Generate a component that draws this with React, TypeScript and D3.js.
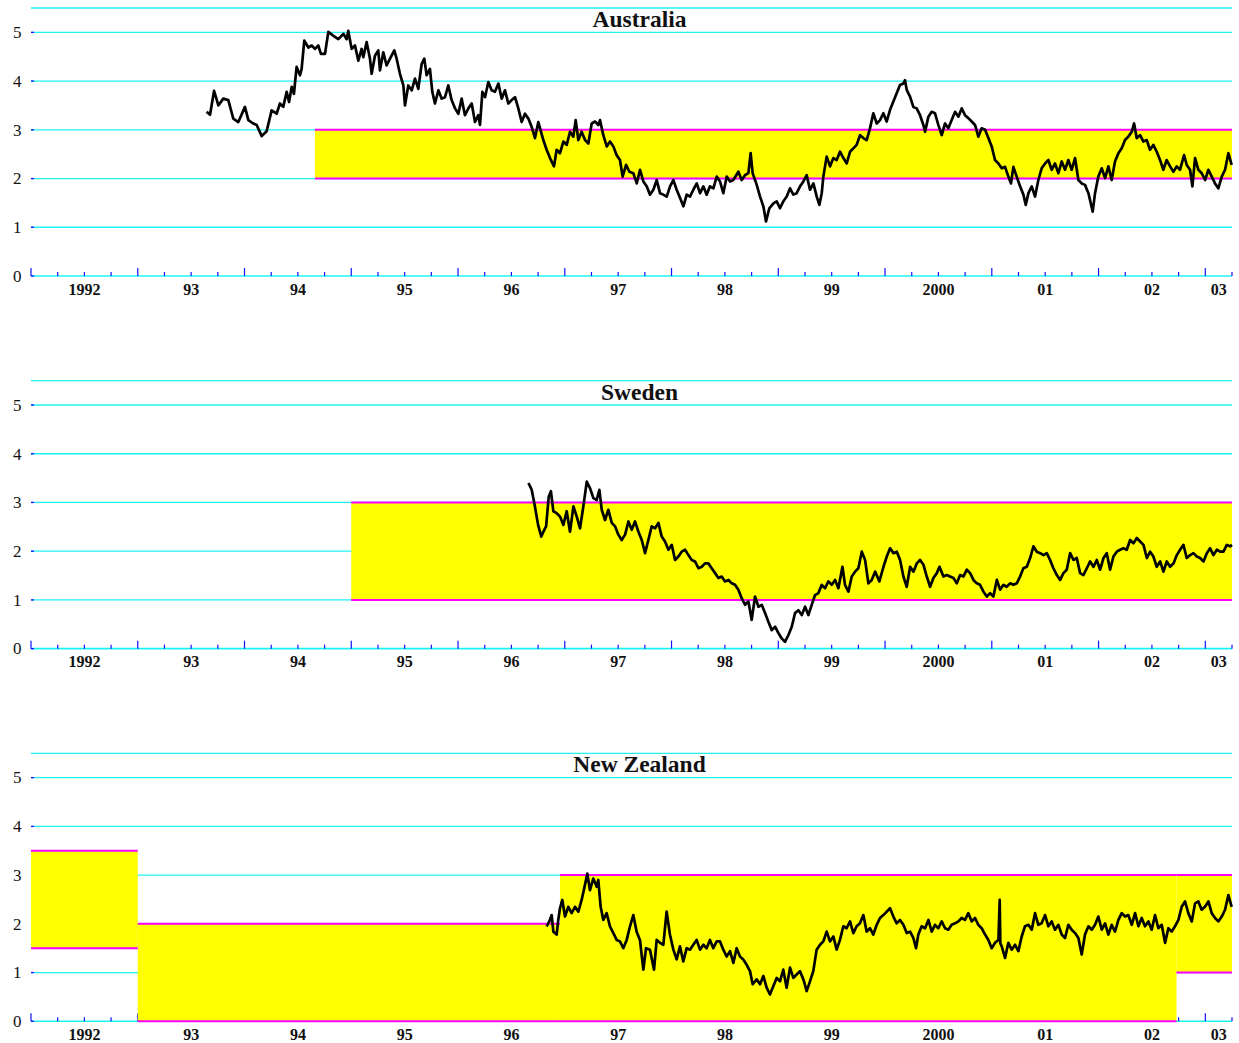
import React from "react";
import * as d3 from "d3";

type Pt = [number, number];
type Band = { from: number; to: number; lo: number; hi: number };

// Daily series, sampled as [decimal year, percent]
const AUSTRALIA: Pt[] = [
  [1993.645,3.37],[1993.677,3.31],[1993.715,3.80],[1993.755,3.50],[1993.801,3.64],[1993.848,3.61],[1993.895,3.23],[1993.942,3.16],
  [1994.004,3.47],[1994.036,3.20],[1994.082,3.13],[1994.114,3.10],[1994.161,2.87],[1994.207,2.97],[1994.254,3.40],[1994.301,3.33],
  [1994.332,3.54],[1994.363,3.47],[1994.395,3.78],[1994.417,3.57],[1994.442,3.88],[1994.463,3.74],[1994.488,4.29],[1994.520,4.12],
  [1994.535,4.25],[1994.560,4.83],[1994.598,4.69],[1994.629,4.73],[1994.660,4.66],[1994.691,4.73],[1994.716,4.56],[1994.754,4.56],
  [1994.785,5.01],[1994.832,4.93],[1994.879,4.86],[1994.926,4.97],[1994.957,4.86],[1994.972,5.03],[1995.004,4.66],[1995.035,4.73],
  [1995.066,4.42],[1995.097,4.66],[1995.113,4.49],[1995.144,4.80],[1995.175,4.46],[1995.191,4.15],[1995.222,4.52],[1995.253,4.63],
  [1995.269,4.22],[1995.300,4.59],[1995.331,4.32],[1995.363,4.46],[1995.403,4.63],[1995.425,4.46],[1995.456,4.15],[1995.488,3.91],
  [1995.503,3.50],[1995.534,3.91],[1995.566,3.81],[1995.597,4.05],[1995.628,3.84],[1995.659,4.35],[1995.684,4.46],[1995.706,4.12],
  [1995.737,4.25],[1995.759,3.78],[1995.784,3.54],[1995.816,3.81],[1995.847,3.64],[1995.878,3.67],[1995.909,3.91],[1995.940,3.61],
  [1995.972,3.44],[1996.003,3.33],[1996.034,3.64],[1996.065,3.30],[1996.097,3.44],[1996.128,3.54],[1996.159,3.16],[1996.190,3.30],
  [1996.206,3.10],[1996.228,3.78],[1996.253,3.67],[1996.284,3.98],[1996.315,3.81],[1996.346,3.78],[1996.378,3.95],[1996.409,3.64],
  [1996.440,3.81],[1996.471,3.54],[1996.502,3.61],[1996.534,3.67],[1996.565,3.44],[1996.596,3.16],[1996.627,3.33],[1996.659,3.23],
  [1996.690,3.06],[1996.721,2.83],[1996.752,3.16],[1996.799,2.79],[1996.830,2.59],[1996.862,2.42],[1996.899,2.25],[1996.924,2.59],
  [1996.955,2.52],[1996.987,2.76],[1997.018,2.69],[1997.049,2.96],[1997.080,2.86],[1997.102,3.20],[1997.127,2.79],[1997.158,2.96],
  [1997.190,2.79],[1997.221,2.72],[1997.252,3.13],[1997.283,3.17],[1997.315,3.10],[1997.330,3.20],[1997.361,2.89],[1997.393,2.66],
  [1997.424,2.76],[1997.455,2.66],[1997.486,2.48],[1997.517,2.38],[1997.542,2.04],[1997.574,2.28],[1997.605,2.14],[1997.642,2.11],
  [1997.674,1.90],[1997.705,2.18],[1997.736,1.94],[1997.767,1.84],[1997.798,1.67],[1997.830,1.77],[1997.861,1.97],[1997.892,1.70],
  [1997.923,1.67],[1997.955,1.63],[1997.986,1.84],[1998.017,1.97],[1998.048,1.77],[1998.080,1.60],[1998.111,1.43],[1998.142,1.67],
  [1998.173,1.63],[1998.204,1.77],[1998.236,1.90],[1998.267,1.70],[1998.298,1.84],[1998.329,1.67],[1998.360,1.84],[1998.392,1.80],
  [1998.423,2.04],[1998.454,1.94],[1998.485,1.70],[1998.517,2.04],[1998.548,1.94],[1998.579,1.97],[1998.626,2.14],[1998.657,1.97],
  [1998.688,2.07],[1998.720,2.11],[1998.741,2.52],[1998.760,2.11],[1998.798,1.87],[1998.829,1.63],[1998.860,1.43],[1998.885,1.12],
  [1998.916,1.39],[1998.954,1.49],[1998.985,1.53],[1999.016,1.39],[1999.047,1.53],[1999.079,1.63],[1999.110,1.80],[1999.141,1.67],
  [1999.172,1.70],[1999.204,1.84],[1999.235,1.94],[1999.266,2.07],[1999.297,1.77],[1999.329,1.90],[1999.360,1.63],[1999.385,1.46],
  [1999.407,1.70],[1999.422,2.04],[1999.453,2.45],[1999.485,2.25],[1999.516,2.42],[1999.547,2.38],[1999.578,2.55],[1999.610,2.42],
  [1999.641,2.31],[1999.672,2.55],[1999.703,2.62],[1999.734,2.69],[1999.766,2.89],[1999.797,2.83],[1999.828,2.79],[1999.859,3.03],
  [1999.890,3.34],[1999.922,3.13],[1999.953,3.20],[1999.984,3.34],[2000.015,3.17],[2000.047,3.41],[2000.078,3.58],[2000.109,3.75],
  [2000.140,3.92],[2000.172,3.95],[2000.187,4.02],[2000.203,3.82],[2000.234,3.68],[2000.265,3.47],[2000.296,3.44],[2000.328,3.30],
  [2000.359,3.10],[2000.375,2.96],[2000.406,3.27],[2000.437,3.37],[2000.468,3.34],[2000.499,3.10],[2000.531,2.89],[2000.562,3.13],
  [2000.593,3.03],[2000.624,3.20],[2000.656,3.37],[2000.687,3.27],[2000.718,3.44],[2000.749,3.30],[2000.780,3.24],[2000.812,3.17],
  [2000.843,3.10],[2000.874,2.86],[2000.905,3.03],[2000.937,3.00],[2000.968,2.83],[2000.999,2.66],[2001.030,2.38],[2001.062,2.31],
  [2001.093,2.21],[2001.124,2.24],[2001.155,2.04],[2001.180,1.90],[2001.202,2.24],[2001.233,2.04],[2001.265,1.84],[2001.296,1.67],
  [2001.318,1.46],[2001.343,1.70],[2001.374,1.84],[2001.405,1.63],[2001.436,1.97],[2001.467,2.21],[2001.499,2.31],[2001.530,2.38],
  [2001.561,2.18],[2001.592,2.31],[2001.624,2.11],[2001.655,2.35],[2001.686,2.18],[2001.717,2.38],[2001.748,2.18],[2001.780,2.42],
  [2001.811,1.97],[2001.842,1.90],[2001.873,1.87],[2001.905,1.70],[2001.920,1.56],[2001.945,1.32],[2001.967,1.70],[2001.998,2.04],
  [2002.030,2.21],[2002.061,2.01],[2002.092,2.25],[2002.123,1.97],[2002.154,2.35],[2002.186,2.52],[2002.217,2.62],[2002.248,2.79],
  [2002.279,2.86],[2002.311,2.96],[2002.333,3.13],[2002.357,2.83],[2002.389,2.89],[2002.420,2.76],[2002.451,2.79],[2002.482,2.59],
  [2002.513,2.69],[2002.545,2.55],[2002.576,2.38],[2002.607,2.18],[2002.638,2.38],[2002.670,2.25],[2002.701,2.14],[2002.732,2.25],
  [2002.763,2.18],[2002.801,2.48],[2002.826,2.28],[2002.857,2.18],[2002.879,1.84],[2002.904,2.42],[2002.935,2.18],[2002.966,2.11],
  [2002.998,1.97],[2003.029,2.18],[2003.060,2.04],[2003.091,1.90],[2003.122,1.80],[2003.154,2.04],[2003.185,2.18],[2003.216,2.52],
  [2003.247,2.28],
];

const SWEDEN: Pt[] = [
  [1996.660,3.40],[1996.690,3.26],[1996.720,2.92],[1996.750,2.54],[1996.780,2.30],[1996.800,2.40],[1996.825,2.51],[1996.850,3.12],
  [1996.870,3.23],[1996.893,2.82],[1996.924,2.78],[1996.956,2.71],[1996.987,2.54],[1997.018,2.82],[1997.049,2.40],[1997.081,2.92],
  [1997.112,2.71],[1997.143,2.47],[1997.174,2.92],[1997.206,3.43],[1997.237,3.29],[1997.268,3.09],[1997.299,3.05],[1997.324,3.26],
  [1997.346,2.85],[1997.377,2.64],[1997.408,2.85],[1997.440,2.58],[1997.471,2.51],[1997.502,2.34],[1997.533,2.23],[1997.565,2.34],
  [1997.596,2.61],[1997.627,2.44],[1997.658,2.61],[1997.690,2.40],[1997.721,2.23],[1997.752,1.96],[1997.783,2.23],[1997.814,2.51],
  [1997.846,2.47],[1997.877,2.58],[1997.908,2.30],[1997.939,2.20],[1997.971,2.03],[1998.002,2.13],[1998.033,1.82],[1998.064,1.89],
  [1998.095,1.99],[1998.127,2.03],[1998.158,1.92],[1998.189,1.82],[1998.220,1.79],[1998.252,1.65],[1998.283,1.68],[1998.314,1.75],
  [1998.345,1.75],[1998.376,1.65],[1998.408,1.55],[1998.439,1.45],[1998.470,1.48],[1998.501,1.38],[1998.533,1.41],[1998.564,1.34],
  [1998.595,1.31],[1998.626,1.21],[1998.658,1.03],[1998.689,0.90],[1998.720,0.97],[1998.751,0.59],[1998.782,1.07],[1998.814,0.86],
  [1998.845,0.90],[1998.876,0.73],[1998.907,0.55],[1998.939,0.38],[1998.970,0.45],[1999.001,0.32],[1999.032,0.21],[1999.063,0.14],
  [1999.095,0.28],[1999.126,0.45],[1999.157,0.73],[1999.188,0.79],[1999.220,0.69],[1999.251,0.86],[1999.282,0.69],[1999.313,0.90],
  [1999.344,1.10],[1999.376,1.14],[1999.407,1.31],[1999.438,1.24],[1999.469,1.38],[1999.501,1.31],[1999.532,1.41],[1999.563,1.24],
  [1999.601,1.68],[1999.625,1.31],[1999.657,1.17],[1999.688,1.48],[1999.719,1.58],[1999.750,1.65],[1999.782,1.99],[1999.813,1.82],
  [1999.844,1.34],[1999.875,1.41],[1999.907,1.58],[1999.947,1.38],[1999.985,1.68],[2000.016,1.89],[2000.047,2.06],[2000.079,1.96],
  [2000.110,1.99],[2000.141,1.82],[2000.172,1.48],[2000.203,1.27],[2000.235,1.68],[2000.266,1.58],[2000.297,1.75],[2000.328,1.82],
  [2000.360,1.72],[2000.391,1.48],[2000.422,1.27],[2000.453,1.45],[2000.485,1.55],[2000.510,1.68],[2000.547,1.48],[2000.578,1.51],
  [2000.609,1.48],[2000.641,1.45],[2000.672,1.34],[2000.703,1.51],[2000.734,1.48],[2000.766,1.62],[2000.797,1.55],[2000.828,1.41],
  [2000.859,1.34],[2000.890,1.31],[2000.922,1.17],[2000.953,1.07],[2000.984,1.14],[2001.015,1.07],[2001.047,1.41],[2001.078,1.21],
  [2001.109,1.31],[2001.140,1.27],[2001.171,1.34],[2001.203,1.31],[2001.234,1.34],[2001.265,1.48],[2001.296,1.65],[2001.328,1.68],
  [2001.359,1.86],[2001.390,2.10],[2001.421,1.99],[2001.453,1.96],[2001.484,1.92],[2001.515,1.96],[2001.546,1.82],[2001.577,1.65],
  [2001.609,1.51],[2001.640,1.41],[2001.671,1.55],[2001.702,1.62],[2001.734,1.96],[2001.765,1.82],[2001.796,1.86],[2001.827,1.55],
  [2001.858,1.51],[2001.890,1.65],[2001.921,1.79],[2001.952,1.68],[2001.983,1.82],[2002.015,1.62],[2002.046,1.86],[2002.077,1.96],
  [2002.108,1.62],[2002.139,1.89],[2002.171,1.99],[2002.202,2.03],[2002.233,2.06],[2002.264,2.03],[2002.296,2.23],[2002.327,2.16],
  [2002.358,2.27],[2002.389,2.20],[2002.421,2.13],[2002.452,1.86],[2002.483,1.99],[2002.514,1.89],[2002.545,1.68],[2002.577,1.79],
  [2002.608,1.58],[2002.639,1.79],[2002.670,1.68],[2002.702,1.75],[2002.733,1.92],[2002.764,2.03],[2002.795,2.13],[2002.826,1.86],
  [2002.858,1.92],[2002.889,1.96],[2002.920,1.89],[2002.951,1.86],[2002.983,1.79],[2003.014,1.96],[2003.045,2.06],[2003.076,1.92],
  [2003.108,2.03],[2003.139,1.99],[2003.170,1.99],[2003.201,2.13],[2003.232,2.10],[2003.250,2.13],
];

const NEW_ZEALAND: Pt[] = [
  [1996.830,1.95],[1996.855,2.05],[1996.877,2.18],[1996.893,1.84],[1996.924,1.78],[1996.939,2.08],[1996.955,2.32],[1996.977,2.49],
  [1997.002,2.15],[1997.033,2.35],[1997.064,2.22],[1997.096,2.35],[1997.127,2.25],[1997.158,2.49],[1997.189,2.80],[1997.211,3.03],
  [1997.236,2.69],[1997.267,2.93],[1997.299,2.76],[1997.314,2.90],[1997.336,2.35],[1997.361,2.08],[1997.392,2.22],[1997.423,1.95],
  [1997.455,1.81],[1997.486,1.67],[1997.517,1.64],[1997.548,1.50],[1997.580,1.67],[1997.611,1.95],[1997.642,2.18],[1997.673,1.84],
  [1997.704,1.67],[1997.736,1.06],[1997.761,1.50],[1997.798,1.47],[1997.836,1.06],[1997.861,1.67],[1997.892,1.61],[1997.923,1.57],
  [1997.954,2.25],[1997.985,1.78],[1998.017,1.47],[1998.048,1.27],[1998.079,1.54],[1998.110,1.23],[1998.142,1.50],[1998.173,1.47],
  [1998.204,1.57],[1998.235,1.67],[1998.267,1.47],[1998.298,1.57],[1998.329,1.50],[1998.360,1.67],[1998.391,1.50],[1998.423,1.64],
  [1998.454,1.64],[1998.485,1.47],[1998.516,1.33],[1998.548,1.44],[1998.579,1.20],[1998.610,1.50],[1998.641,1.33],[1998.672,1.27],
  [1998.704,1.16],[1998.735,1.03],[1998.760,0.76],[1998.797,0.86],[1998.829,0.76],[1998.860,0.93],[1998.891,0.69],[1998.922,0.55],
  [1998.953,0.72],[1998.985,0.89],[1999.016,0.82],[1999.047,1.06],[1999.078,0.69],[1999.110,1.10],[1999.141,0.89],[1999.172,0.96],
  [1999.203,1.03],[1999.235,0.86],[1999.266,0.62],[1999.297,0.82],[1999.328,1.03],[1999.359,1.47],[1999.391,1.57],[1999.422,1.64],
  [1999.453,1.84],[1999.484,1.64],[1999.516,1.74],[1999.547,1.47],[1999.578,1.67],[1999.609,1.95],[1999.640,1.91],[1999.672,2.05],
  [1999.703,1.81],[1999.734,1.95],[1999.765,2.01],[1999.797,2.18],[1999.828,1.84],[1999.859,1.91],[1999.890,1.78],[1999.922,1.98],
  [1999.953,2.12],[1999.984,2.18],[2000.047,2.32],[2000.078,2.15],[2000.109,2.01],[2000.140,2.08],[2000.172,1.98],[2000.203,1.81],
  [2000.234,1.84],[2000.265,1.71],[2000.290,1.50],[2000.312,1.78],[2000.343,1.95],[2000.375,1.91],[2000.406,2.08],[2000.437,1.84],
  [2000.468,1.98],[2000.499,1.91],[2000.531,2.05],[2000.562,1.91],[2000.593,1.88],[2000.624,1.98],[2000.656,2.01],[2000.687,2.05],
  [2000.718,2.12],[2000.749,2.08],[2000.780,2.22],[2000.812,2.05],[2000.843,2.12],[2000.874,1.98],[2000.905,1.91],[2000.937,1.78],
  [2000.968,1.67],[2000.999,1.50],[2001.030,1.61],[2001.062,1.67],[2001.074,2.49],[2001.080,1.60],[2001.093,1.54],[2001.124,1.30],
  [2001.155,1.61],[2001.186,1.47],[2001.218,1.57],[2001.249,1.44],[2001.280,1.74],[2001.311,1.95],[2001.343,1.98],[2001.374,1.88],
  [2001.405,2.22],[2001.436,1.98],[2001.467,2.01],[2001.499,2.18],[2001.530,1.95],[2001.561,2.05],[2001.592,1.88],[2001.624,1.98],
  [2001.655,1.78],[2001.686,1.71],[2001.717,1.98],[2001.748,1.88],[2001.780,1.81],[2001.811,1.71],[2001.842,1.37],[2001.873,1.78],
  [2001.905,1.95],[2001.936,1.88],[2001.967,1.98],[2001.998,2.15],[2002.030,1.88],[2002.061,2.01],[2002.092,1.78],[2002.123,1.98],
  [2002.154,1.84],[2002.186,2.08],[2002.217,2.22],[2002.248,2.15],[2002.279,2.18],[2002.311,1.98],[2002.342,2.22],[2002.373,1.95],
  [2002.404,2.12],[2002.435,1.95],[2002.467,2.05],[2002.498,1.88],[2002.529,2.18],[2002.560,1.91],[2002.592,1.98],[2002.623,1.61],
  [2002.654,1.91],[2002.685,1.84],[2002.716,1.95],[2002.748,2.08],[2002.779,2.35],[2002.810,2.46],[2002.841,2.22],[2002.873,2.05],
  [2002.904,2.42],[2002.935,2.46],[2002.966,2.29],[2002.997,2.35],[2003.029,2.46],[2003.060,2.22],[2003.091,2.12],[2003.122,2.05],
  [2003.154,2.15],[2003.185,2.29],[2003.216,2.59],[2003.247,2.35],
];

// Inflation target ranges
const AUSTRALIA_TARGETS: Band[] = [{ from: 1994.66, to: 2003.25, lo: 2, hi: 3 }];
const SWEDEN_TARGETS: Band[] = [{ from: 1995.0, to: 2003.25, lo: 1, hi: 3 }];
const NEW_ZEALAND_TARGETS: Band[] = [
  { from: 1992.0, to: 1993.0, lo: 1.5, hi: 3.5 },
  { from: 1993.0, to: 1996.955, lo: 0, hi: 2 },
  { from: 1996.955, to: 2002.73, lo: 0, hi: 3 },
  { from: 2002.73, to: 2003.25, lo: 1, hi: 3 },
];

const YEARS = [1992, 1993, 1994, 1995, 1996, 1997, 1998, 1999, 2000, 2001, 2002, 2003];
const YEAR_LABELS = ["1992", "93", "94", "95", "96", "97", "98", "99", "2000", "01", "02", "03"];
const Y_TICKS = [0, 1, 2, 3, 4, 5];
const Y_MAX = 5.5;
const X_START = 1992;
const X_END = 2003.25;

const PANELS = [
  { title: "Australia", series: AUSTRALIA, bands: AUSTRALIA_TARGETS },
  { title: "Sweden", series: SWEDEN, bands: SWEDEN_TARGETS },
  { title: "New Zealand", series: NEW_ZEALAND, bands: NEW_ZEALAND_TARGETS },
];

const W = 1239;
const H = 1043;
const LEFT = 31;
const RIGHT = 1232;
const PANEL_H = 268;
const PANEL_STEP = 372.65;
const FIRST_TOP = 8;

const CYAN = "#1ff2f2";
const BLUE = "#1010ff";
const MAGENTA = "#ff00ff";
const YELLOW = "#ffff00";
const SERIF = "'Liberation Serif', 'Times New Roman', Times, serif";

const x = d3.scaleLinear().domain([X_START, X_END]).range([LEFT, RIGHT]);
const quarterTicks = d3.range(0, Math.round((X_END - X_START) * 4) + 1).map((i) => X_START + i / 4);

function Panel({ index, title, series, bands }: { index: number; title: string; series: Pt[]; bands: Band[] }) {
  const top = FIRST_TOP + index * PANEL_STEP;
  const y = d3.scaleLinear().domain([0, Y_MAX]).range([top + PANEL_H, top]);
  const line = d3
    .line<Pt>()
    .x((d) => x(d[0]))
    .y((d) => y(d[1]));
  const y0 = y(0);
  return (
    <g>
      {/* grid */}
      {[...Y_TICKS.filter((t) => t > 0), Y_MAX].map((t) => (
        <line key={"g" + t} x1={LEFT} x2={RIGHT} y1={y(t)} y2={y(t)} stroke={CYAN} strokeWidth={1.3} />
      ))}
      {/* x axis */}
      <line x1={LEFT} x2={RIGHT} y1={y0} y2={y0} stroke={CYAN} strokeWidth={1.6} />
      {quarterTicks.map((t, i) => (
        <line
          key={"xt" + i}
          x1={x(t)}
          x2={x(t)}
          y1={y0}
          y2={y0 - (i % 4 === 0 ? 8 : 4)}
          stroke={BLUE}
          strokeWidth={1.2}
        />
      ))}
      {/* y ticks */}
      {Y_TICKS.map((t) => (
        <line key={"yt" + t} x1={LEFT} x2={LEFT + 3} y1={y(t)} y2={y(t)} stroke={BLUE} strokeWidth={1.3} />
      ))}
      {Y_TICKS.map((t) => (
        <text
          key={"yl" + t}
          x={21.5}
          y={y(t)}
          dy="0.34em"
          textAnchor="end"
          fontFamily={SERIF}
          fontSize={17}
          fill="#111"
        >
          {t}
        </text>
      ))}
      {YEARS.map((yr, i) => {
        const mid = (Math.max(yr, X_START) + Math.min(yr + 1, X_END)) / 2;
        return (
          <text
            key={"xl" + yr}
            x={x(mid)}
            y={y0 + 18.5}
            textAnchor="middle"
            fontFamily={SERIF}
            fontWeight="bold"
            fontSize={16}
            fill="#111"
          >
            {YEAR_LABELS[i]}
          </text>
        );
      })}
      {/* target ranges */}
      {bands.map((b, i) => (
        <rect
          key={"b" + i}
          x={x(b.from)}
          width={x(b.to) - x(b.from)}
          y={y(b.hi)}
          height={y(b.lo) - y(b.hi)}
          fill={YELLOW}
        />
      ))}
      {bands.map((b, i) => (
        <g key={"bl" + i}>
          <line x1={x(b.from)} x2={x(b.to)} y1={y(b.hi)} y2={y(b.hi)} stroke={MAGENTA} strokeWidth={2} />
          <line x1={x(b.from)} x2={x(b.to)} y1={y(b.lo)} y2={y(b.lo)} stroke={MAGENTA} strokeWidth={2} />
        </g>
      ))}
      {/* series */}
      <path d={line(series) ?? ""} fill="none" stroke="#000" strokeWidth={2.7} strokeLinejoin="round" />
      <text
        x={639.5}
        y={top + 19}
        textAnchor="middle"
        fontFamily={SERIF}
        fontWeight="bold"
        fontSize={23.5}
        fill="#111"
      >
        {title}
      </text>
    </g>
  );
}

export default function App() {
  return (
    <svg
      width={W}
      height={H}
      viewBox={`0 0 ${W} ${H}`}
      style={{ position: "absolute", left: 0, top: 0, background: "#fff" }}
    >
      <rect width={W} height={H} fill="#fff" />
      {PANELS.map((p, i) => (
        <Panel key={p.title} index={i} title={p.title} series={p.series} bands={p.bands} />
      ))}
    </svg>
  );
}
